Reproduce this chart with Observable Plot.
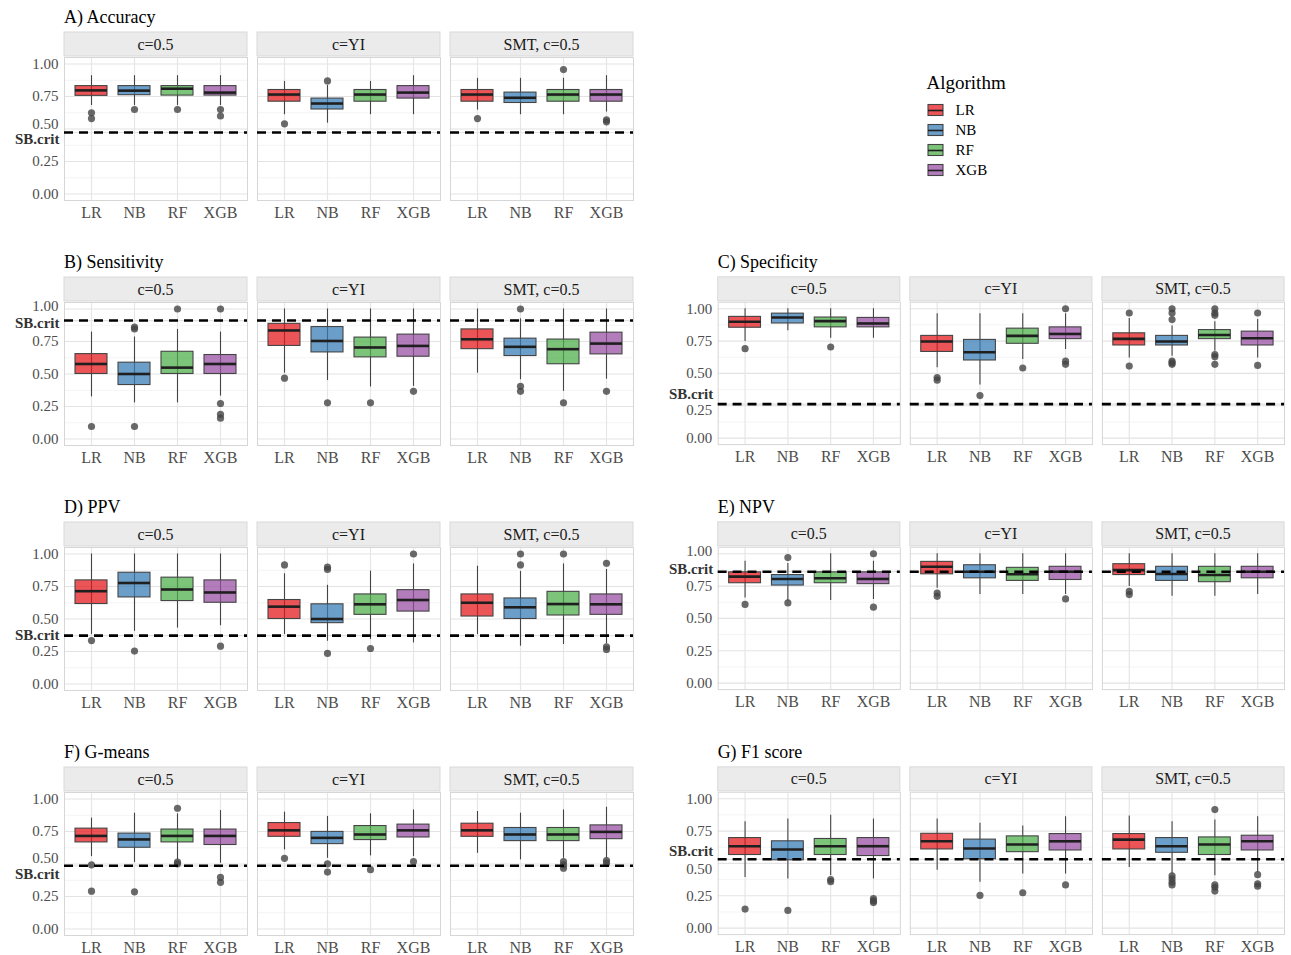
<!DOCTYPE html>
<html><head><meta charset="utf-8">
<script src="https://cdn.jsdelivr.net/npm/d3@7"></script>
<script src="https://cdn.jsdelivr.net/npm/@observablehq/plot@0.6"></script>
<style>
body{margin:0;background:#fff;overflow:hidden;}
#root{position:relative;width:1291px;height:955px;overflow:hidden;font-family:"Liberation Serif","Times New Roman",serif;}
.panel{position:absolute;}
</style></head><body><div id="root"></div>
<script>
// ---------- data ----------
const algorithms = ["LR", "NB", "RF", "XGB"];
const conditions = ["c=0.5", "c=YI", "SMT, c=0.5"];
const metricTitles = ["A) Accuracy", "B) Sensitivity", "C) Specificity", "D) PPV", "E) NPV", "F) G-means", "G) F1 score"];
const sbCrit = [0.473, 0.911, 0.263, 0.372, 0.861, 0.486, 0.532];
const yTicks = [0, 0.25, 0.5, 0.75, 1];
const yMinorTicks = [0.125, 0.375, 0.625, 0.875];
const legendTitle = "Algorithm";

// boxes: [condition][algorithm] = [whiskerLow, q1, median, q3, whiskerHigh]
const accuracyBoxes = [
  [[0.68,0.755,0.797,0.83,0.91],[0.68,0.76,0.795,0.83,0.91],[0.68,0.757,0.81,0.83,0.91],[0.68,0.757,0.78,0.83,0.91]],
  [[0.61,0.71,0.765,0.80,0.866],[0.545,0.65,0.696,0.734,0.835],[0.61,0.71,0.765,0.80,0.866],[0.61,0.734,0.78,0.83,0.91]],
  [[0.645,0.71,0.765,0.80,0.89],[0.61,0.70,0.74,0.78,0.89],[0.61,0.71,0.765,0.80,0.89],[0.63,0.71,0.765,0.80,0.91]]
];
const accuracyOutliers = [
  [[0.625,0.58],[0.65],[0.65],[0.65,0.60]],
  [[0.54],[0.87],[],[]],
  [[0.58],[],[0.957],[0.57,0.555]]
];
const sensitivityBoxes = [
  [[0.324,0.50,0.577,0.653,0.823],[0.278,0.415,0.50,0.587,0.785],[0.278,0.50,0.549,0.671,0.843],[0.33,0.50,0.577,0.646,0.823]],
  [[0.506,0.716,0.835,0.886,1.0],[0.45,0.666,0.754,0.861,1.0],[0.40,0.628,0.704,0.78,1.0],[0.405,0.633,0.716,0.803,1.0]],
  [[0.506,0.691,0.767,0.843,1.0],[0.456,0.638,0.709,0.772,0.924],[0.367,0.575,0.691,0.765,1.0],[0.46,0.651,0.734,0.818,1.0]]
];
const sensitivityOutliers = [
  [[0.096],[0.86,0.846,0.096],[1.0],[1.0,0.273,0.19,0.16]],
  [[0.468],[0.278],[0.278],[0.367]],
  [[],[1.0,0.405,0.367],[0.278],[0.367]]
];
const specificityBoxes = [
  [[0.747,0.853,0.899,0.937,1.0],[0.83,0.886,0.932,0.962,1.0],[0.772,0.856,0.904,0.932,1.0],[0.772,0.856,0.886,0.929,1.0]],
  [[0.544,0.666,0.747,0.79,0.962],[0.41,0.60,0.663,0.759,0.962],[0.608,0.729,0.79,0.846,0.962],[0.684,0.765,0.805,0.856,0.962]],
  [[0.62,0.716,0.767,0.81,0.924],[0.633,0.716,0.747,0.79,0.866],[0.671,0.765,0.797,0.835,0.899],[0.62,0.716,0.772,0.823,0.916]]
];
const specificityOutliers = [
  [[0.691],[],[0.704],[]],
  [[0.468,0.448],[0.329],[0.542],[1.0,0.595,0.57]],
  [[0.967,0.557],[1.0,0.967,0.916,0.595,0.582,0.57],[1.0,0.967,0.949,0.646,0.628,0.57],[0.967,0.562]]
];
const ppvBoxes = [
  [[0.38,0.615,0.714,0.797,1.0],[0.405,0.666,0.777,0.856,1.0],[0.43,0.638,0.727,0.818,1.0],[0.448,0.625,0.704,0.797,1.0]],
  [[0.38,0.50,0.595,0.646,0.848],[0.329,0.468,0.50,0.613,0.759],[0.342,0.532,0.613,0.689,0.868],[0.316,0.557,0.646,0.722,0.924]],
  [[0.38,0.519,0.625,0.689,0.906],[0.291,0.50,0.59,0.658,0.866],[0.304,0.527,0.615,0.709,0.924],[0.309,0.532,0.613,0.689,0.881]]
];
const ppvOutliers = [
  [[0.334],[0.253],[],[0.291]],
  [[0.916],[0.899,0.881,0.235],[0.273],[1.0]],
  [[],[1.0,0.916],[1.0],[0.929,0.286,0.266]]
];
const npvBoxes = [
  [[0.658,0.772,0.823,0.856,0.942],[0.633,0.754,0.805,0.835,0.924],[0.638,0.772,0.81,0.856,1.0],[0.646,0.765,0.805,0.856,0.942]],
  [[0.734,0.841,0.899,0.937,1.0],[0.684,0.81,0.861,0.911,1.0],[0.684,0.79,0.841,0.891,1.0],[0.684,0.797,0.861,0.899,1.0]],
  [[0.747,0.835,0.873,0.919,1.0],[0.671,0.79,0.843,0.899,1.0],[0.671,0.78,0.835,0.899,1.0],[0.684,0.81,0.861,0.899,1.0]]
];
const npvOutliers = [
  [[0.608],[0.97,0.62],[],[1.0,0.587]],
  [[0.696,0.671],[],[],[0.651]],
  [[0.709,0.684],[],[],[]]
];
const gmeansBoxes = [
  [[0.557,0.666,0.716,0.772,0.853],[0.511,0.625,0.689,0.734,0.891],[0.532,0.666,0.716,0.765,0.886],[0.506,0.646,0.716,0.765,0.911]],
  [[0.608,0.709,0.759,0.815,0.899],[0.544,0.653,0.701,0.747,0.866],[0.562,0.684,0.727,0.792,0.886],[0.557,0.704,0.759,0.803,0.916]],
  [[0.582,0.709,0.759,0.81,0.904],[0.532,0.676,0.727,0.777,0.891],[0.544,0.676,0.727,0.777,0.916],[0.544,0.691,0.747,0.797,0.937]]
];
const gmeansOutliers = [
  [[0.494,0.291],[0.286],[0.929,0.514,0.501],[0.397,0.359]],
  [[0.544],[0.501,0.438],[0.456],[0.519]],
  [[],[],[0.519,0.494,0.468],[0.527,0.506]]
];
const f1Boxes = [
  [[0.392,0.565,0.633,0.696,0.823],[0.38,0.524,0.608,0.671,0.843],[0.405,0.565,0.633,0.689,0.873],[0.38,0.557,0.633,0.696,0.843]],
  [[0.448,0.608,0.671,0.729,0.843],[0.354,0.532,0.615,0.684,0.81],[0.418,0.587,0.646,0.709,0.79],[0.418,0.60,0.671,0.727,0.861]],
  [[0.468,0.608,0.684,0.727,0.866],[0.418,0.582,0.633,0.696,0.823],[0.405,0.565,0.646,0.701,0.835],[0.43,0.60,0.671,0.714,0.861]]
];
const f1Outliers = [
  [[0.147],[0.137],[0.375,0.359],[0.228,0.21,0.197]],
  [[],[0.253],[0.273],[0.334]],
  [[],[0.405,0.38,0.354,0.334],[0.916,0.334,0.316,0.286],[0.413,0.342,0.324]]
];
const metricBoxes = [accuracyBoxes, sensitivityBoxes, specificityBoxes, ppvBoxes, npvBoxes, gmeansBoxes, f1Boxes];
const metricOutliers = [accuracyOutliers, sensitivityOutliers, specificityOutliers, ppvOutliers, npvOutliers, gmeansOutliers, f1Outliers];

// ---------- layout & style ----------
const set1 = ["#E41A1C", "#377EB8", "#4DAF4A", "#984EA3"];
// sbDy: vertical nudge of the "SB.crit" label; nudge: one tick label moved to stay clear of it
const panelLayout = [
  {left: 0, top: 5, sbDy: 7, nudge: {tick: 0.5, dy: -5}},
  {left: 0, top: 250, sbDy: 3, nudge: {tick: 1, dy: -3}},
  {left: 654, top: 250, sbDy: -10, nudge: {tick: 0.25, dy: 4}},
  {left: 0, top: 495, sbDy: 0, nudge: null},
  {left: 654, top: 495, sbDy: -2, nudge: {tick: 1, dy: -3}},
  {left: 0, top: 740, sbDy: 8, nudge: {tick: 0.5, dy: -6}},
  {left: 654, top: 740, sbDy: -8, nudge: {tick: 0.5, dy: 6}}
];
const FONT = "Liberation Serif, Times New Roman, serif";
const root = document.getElementById("root");

metricTitles.forEach((title, m) => {
  const boxes = [];
  const outliers = [];
  conditions.forEach((cond, c) => {
    algorithms.forEach((alg, a) => {
      const [lo, q1, med, q3, hi] = metricBoxes[m][c][a];
      boxes.push({cond, alg, lo, q1, med, q3, hi});
      metricOutliers[m][c][a].forEach(v => outliers.push({cond, alg, v}));
    });
  });
  const sb = sbCrit[m];
  const lay = panelLayout[m];
  const nudgedTick = lay.nudge ? lay.nudge.tick : null;
  const plainTicks = yTicks.filter(t => t !== nudgedTick);
  const movedTicks = yTicks.filter(t => t === nudgedTick);

  const chart = Plot.plot({
    width: 640, height: 220,
    marginLeft: 64, marginRight: 7, marginTop: 52, marginBottom: 25,
    style: {fontFamily: FONT, fontSize: "16px", background: "transparent", overflow: "visible"},
    fx: {domain: conditions, paddingInner: 0.052, paddingOuter: 0, axis: null, label: null},
    x: {type: "band", domain: algorithms, paddingInner: 0.25, paddingOuter: 0.225, label: null, axis: null},
    y: {domain: [-0.05, 1.05], label: null, axis: null},
    color: {domain: algorithms, range: set1},
    marks: [
      Plot.gridY(yMinorTicks, {stroke: "#f1f1f1", strokeOpacity: 1, strokeWidth: 0.8}),
      Plot.gridY(yTicks.concat([sb]), {stroke: "#e3e3e3", strokeOpacity: 1, strokeWidth: 1.2}),
      Plot.ruleX(algorithms, {x: d => d, stroke: "#e6e6e6", strokeWidth: 1.2}),
      Plot.frame({stroke: "#d6d6d6"}),
      Plot.ruleX(boxes, {fx: "cond", x: "alg", y1: "lo", y2: "hi", stroke: "#444", strokeWidth: 1.1}),
      Plot.barY(boxes, {fx: "cond", x: "alg", y1: "q1", y2: "q3", fill: "alg", fillOpacity: 0.74, stroke: "#444", strokeWidth: 1.1}),
      Plot.tickY(boxes, {fx: "cond", x: "alg", y: "med", stroke: "#1f1f1f", strokeWidth: 2.6}),
      Plot.dot(outliers, {fx: "cond", x: "alg", y: "v", r: 3.6, fill: "#444", fillOpacity: 0.8}),
      Plot.ruleY([sb], {stroke: "#000", strokeWidth: 2.6, strokeDasharray: "9,6"}),
      Plot.axisY(plainTicks, {tickSize: 0, tickPadding: 6, tickFormat: d3.format(".2f"), fontSize: 15, fill: "#4d4d4d", label: null}),
      Plot.axisY(movedTicks, {tickSize: 0, tickPadding: 6, tickFormat: d3.format(".2f"), fontSize: 15, fill: "#4d4d4d", label: null, dy: lay.nudge ? lay.nudge.dy : 0}),
      Plot.text([{cond: conditions[0], v: sb}], {fx: "cond", y: "v", frameAnchor: "left", text: () => "SB.crit", textAnchor: "end", dx: -5, dy: lay.sbDy, fontWeight: "bold", fontSize: 15, fill: "#333"}),
      Plot.axisX({tickSize: 0, tickPadding: 6, fontSize: 16, fill: "#4d4d4d", label: null})
    ]
  });

  // facet strips and panel title, placed with Plot's own fx scale
  const fx = chart.scale("fx");
  const svg = d3.select(chart);
  const g = svg.append("g").attr("text-anchor", "start");
  conditions.forEach(cond => {
    const x0 = fx.apply(cond);
    const bw = fx.bandwidth;
    g.append("rect").attr("x", x0).attr("y", 27).attr("width", bw).attr("height", 24)
      .attr("fill", "#ebebeb").attr("stroke", "#d9d9d9").attr("stroke-width", 1);
    g.append("text").attr("x", x0 + bw / 2).attr("y", 39).attr("text-anchor", "middle")
      .attr("dominant-baseline", "central").attr("font-size", 16).attr("fill", "#1a1a1a")
      .attr("font-family", FONT).text(cond);
  });
  g.append("text").attr("x", 64).attr("y", 18).attr("text-anchor", "start")
    .attr("font-size", 18).attr("fill", "#000").attr("font-family", FONT).text(title);

  const div = document.createElement("div");
  div.className = "panel";
  div.style.left = lay.left + "px";
  div.style.top = lay.top + "px";
  div.appendChild(chart);
  root.appendChild(div);
});

// ---------- legend ----------
const legend = Plot.plot({
  width: 130, height: 125, margin: 0,
  style: {fontFamily: FONT, background: "transparent", overflow: "visible"},
  x: {type: "identity", axis: null},
  y: {type: "band", domain: algorithms, range: [40, 120], padding: 0, axis: null},
  color: {domain: algorithms, range: set1},
  marks: [
    Plot.text([legendTitle], {x: 6, frameAnchor: "top", text: d => d, textAnchor: "start", dy: 22, fontSize: 19, fill: "#000", lineAnchor: "middle"}),
    Plot.ruleX(algorithms, {x: 15.5, y: d => d, insetTop: 2, insetBottom: 2, stroke: "#444", strokeWidth: 1.1}),
    Plot.barX(algorithms, {x1: 8, x2: 23, y: d => d, insetTop: 4.5, insetBottom: 4.5, fill: d => d, fillOpacity: 0.74, stroke: "#444", strokeWidth: 1.1}),
    Plot.ruleY(algorithms, {y: d => d, x1: 8, x2: 23, stroke: "#1f1f1f", strokeWidth: 1.6}),
    Plot.text(algorithms, {x: 35, y: d => d, text: d => d, textAnchor: "start", fontSize: 15, fill: "#000"})
  ]
});
const ldiv = document.createElement("div");
ldiv.className = "panel";
ldiv.style.left = "920px";
ldiv.style.top = "60px";
ldiv.appendChild(legend);
root.appendChild(ldiv);
</script>
</body></html>
